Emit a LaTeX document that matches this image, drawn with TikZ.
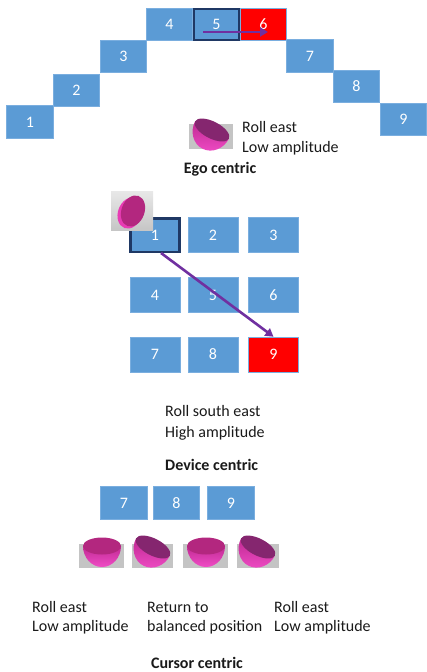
\documentclass[tikz,border=0pt]{standalone}
\usepackage{fontspec}
\setmainfont{Carlito}
\usetikzlibrary{arrows.meta}
\definecolor{boxblue}{HTML}{5B9BD5}
\definecolor{boxedge}{HTML}{7AAEDF}
\definecolor{boxred}{HTML}{FF0000}
\definecolor{navy}{HTML}{1F3864}
\definecolor{arrowpurple}{HTML}{7030A0}
\definecolor{graybg}{HTML}{C4C4C4}
\definecolor{bowltop}{HTML}{C02A92}
\definecolor{bowlbot}{HTML}{F04CC6}
\definecolor{facelevel}{HTML}{B3277F}
\definecolor{facetilt}{HTML}{85266F}
\definecolor{pinkrim}{HTML}{E83CB4}
\definecolor{labeltext}{HTML}{1A1A1A}
\begin{document}
\begin{tikzpicture}[x=1pt,y=-1pt,
  cell/.style={rectangle, fill=boxblue, draw=boxedge, line width=0.6pt,
    minimum width=46.5pt, minimum height=32.5pt, inner sep=0pt,
    text=white, font=\fontsize{16}{19}\selectfont},
  devcell/.style={cell, minimum width=50pt, minimum height=35pt},
  focus/.style={draw=navy, line width=2.5pt},
  parrow/.style={draw=arrowpurple, line width=2.6pt, -{Triangle[length=8pt,width=9pt]}},
  lbl/.style={font=\fontsize{16}{20}\selectfont, text=labeltext, align=left, inner sep=0pt, anchor=base west},
  ttl/.style={font=\bfseries\fontsize{16}{20}\selectfont, text=labeltext, inner sep=0pt, anchor=base},
  pics/bowl/.style={code={
    \shade[top color=bowltop, bottom color=bowlbot]
      (-19pt,0pt) arc[start angle=180, end angle=360, x radius=19pt, y radius=21pt] -- cycle;
    \fill[#1] (0pt,0pt) ellipse[x radius=19pt, y radius=8.5pt];
  }}
]
\useasboundingbox (0,0) rectangle (427,672);

% ---------------- Ego centric ----------------
\node[cell] (e1) at (30,122) {1};
\node[cell] (e2) at (76.5,90.5) {2};
\node[cell] (e3) at (123.5,56.5) {3};
\node[cell] (e4) at (169.5,24.5) {4};
\node[cell, fill=boxred] (e6) at (263.5,24.5) {6};
\node[cell] (e7) at (310,56) {7};
\node[cell] (e8) at (356.5,86.5) {8};
\node[cell] (e9) at (403.5,119.5) {9};
\node[cell, focus, minimum width=45pt, minimum height=31pt] (e5) at (216.5,24.5) {5};
\coordinate (ea) at (203,32);
\coordinate (eb) at (268,32);
\draw[parrow] (ea) -- (eb);

\fill[graybg] (189,124) rectangle (233,149);
\pic[rotate=-27] at (212,130) {bowl=facetilt};
\node[lbl] (elbl) at (242,152) {Roll east\\Low amplitude};
\node[ttl] (etitle) at (220,173) {Ego centric};

% ---------------- Device centric ----------------
\node[devcell] (d2) at (213,235) {2};
\node[devcell] (d3) at (273.5,235) {3};
\node[devcell] (d4) at (155,295) {4};
\node[devcell] (d5) at (213,295) {5};
\node[devcell] (d6) at (273.5,295) {6};
\node[devcell] (d7) at (155,354.5) {7};
\node[devcell] (d8) at (213,354.5) {8};
\node[devcell, fill=boxred] (d9) at (273.5,354.5) {9};
\node[devcell, focus, minimum width=49pt, minimum height=33.5pt] (d1) at (155,235) {1};

\shade[top color=gray!18, bottom color=gray!45] (111,191) rectangle (153,230);
\begin{scope}[shift={(130,213)}, rotate=-20]
  \fill[pinkrim] (0,0) ellipse[x radius=12pt, y radius=16pt];
\end{scope}
\begin{scope}[shift={(133,211)}, rotate=-20]
  \fill[facelevel] (0,0) ellipse[x radius=11.5pt, y radius=16pt];
\end{scope}

\coordinate (da) at ([xshift=6pt]d1.south);
\draw[parrow] (da) -- (d9.north);

\node[lbl, font=\fontsize{16}{21}\selectfont] (dlbl) at (165,437) {Roll south east\\High amplitude};
\node[ttl, anchor=base west] (dtitle) at (165,470) {Device centric};

% ---------------- Cursor centric ----------------
\node[cell] (c7) at (124,503) {7};
\node[cell] (c8) at (176.5,503) {8};
\node[cell] (c9) at (231,503) {9};

\fill[graybg] (79,544) rectangle (124,568);
\fill[graybg] (132,544) rectangle (173,568);
\fill[graybg] (183,544) rectangle (228,568);
\fill[graybg] (237,544) rectangle (279,568);
\pic at (102,546) {bowl=facelevel};
\pic[rotate=-27] at (153,547) {bowl=facetilt};
\pic at (206,546) {bowl=facelevel};
\pic[rotate=-27] at (258,547) {bowl=facetilt};

\node[lbl, font=\fontsize{16}{19}\selectfont] (cl1) at (32,631) {Roll east\\Low amplitude};
\node[lbl, font=\fontsize{16}{19}\selectfont] (cl2) at (147,631) {Return to\\balanced position};
\node[lbl, font=\fontsize{16}{19}\selectfont] (cl3) at (274,631) {Roll east\\Low amplitude};
\node[ttl] (ctitle) at (197,668) {Cursor centric};
\end{tikzpicture}
\end{document}
